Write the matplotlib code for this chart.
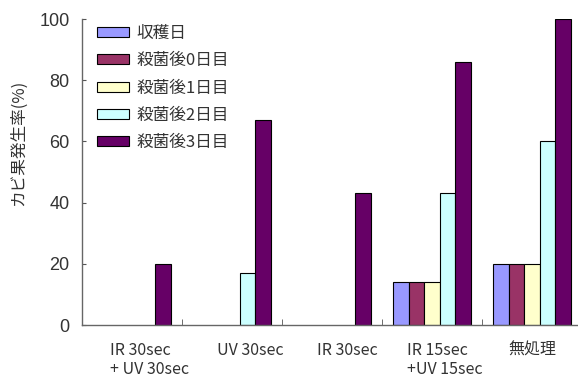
import matplotlib
matplotlib.use("Agg")
import matplotlib.pyplot as plt
import matplotlib.transforms as mtransforms
import numpy as np

plt.rcParams['font.family'] = ['Noto Sans CJK JP', 'DejaVu Sans']

categories = ["IR 30sec\n+ UV 30sec", "UV 30sec", "IR 30sec", "IR 15sec\n+UV 15sec", "無処理"]
series_names = ["収穫日", "殺菌後0日目", "殺菌後1日目", "殺菌後2日目", "殺菌後3日目"]
harvest_day = [0, 0, 0, 14, 20]
day0 = [0, 0, 0, 14, 20]
day1 = [0, 0, 0, 14, 20]
day2 = [0, 17, 0, 43, 60]
day3 = [20, 67, 43, 86, 100]
series_values = [harvest_day, day0, day1, day2, day3]
colors = ["#9999FF", "#993366", "#FFFFCC", "#CCFFFF", "#660066"]
yticks = [0, 20, 40, 60, 80, 100]

fig = plt.figure(figsize=(5.78, 3.79), dpi=100)
ax = fig.add_axes([82/578, 1 - 325/379, 500/578, (325 - 19)/379])

x = np.arange(len(categories))
n = len(series_values)
bw = 0.156
for i, (vals, name, c) in enumerate(zip(series_values, series_names, colors)):
    pos = x + (i - (n - 1) / 2) * bw
    heights = np.array(vals, dtype=float)
    mask = heights > 0
    ax.bar(pos[mask], heights[mask], width=bw, color=c, edgecolor="black",
           linewidth=0.8, label=name)

ax.set_xlim(-0.5, len(categories) - 0.5)
ax.set_ylim(0, 100)
ax.set_yticks(yticks)
ax.set_yticklabels([str(v) for v in yticks], fontsize=13, family=['Liberation Sans'],
                   color='#333333')
ax.tick_params(axis='y', direction='in', length=3, color='#555555', pad=9)

# category separators as minor ticks, labels on majors
ax.set_xticks(x)
ax.set_xticklabels(categories, fontsize=11.5, multialignment='left', color='#333333',
                   linespacing=1.15)
ax.tick_params(axis='x', which='major', length=0, pad=12)
ax.set_xticks(np.arange(0.5, len(categories) - 0.5, 1.0), minor=True)
ax.tick_params(axis='x', which='minor', direction='in', length=4, color='#555555')

offsets = [18, 18, 15, 13, 0]
for lab, dx in zip(ax.get_xticklabels(), offsets):
    lab.set_transform(lab.get_transform() + mtransforms.ScaledTranslation(dx / 100, 0, fig.dpi_scale_trans))

for s in ["top", "right"]:
    ax.spines[s].set_visible(False)
for s in ["left", "bottom"]:
    ax.spines[s].set_color("#666666")
    ax.spines[s].set_linewidth(1.0)

ax.set_ylabel("カビ果発生率(%)", fontsize=12, color='#333333')
ax.yaxis.set_label_coords(-0.11, 0.595)

leg = ax.legend(loc="upper left", bbox_to_anchor=(0.01, 1.013), frameon=False,
                fontsize=12, handlelength=1.9, handleheight=0.55,
                labelspacing=0.62, handletextpad=0.45, borderaxespad=0.2)
for t in leg.get_texts():
    t.set_color('#333333')

fig.savefig("out.png", dpi=100)
